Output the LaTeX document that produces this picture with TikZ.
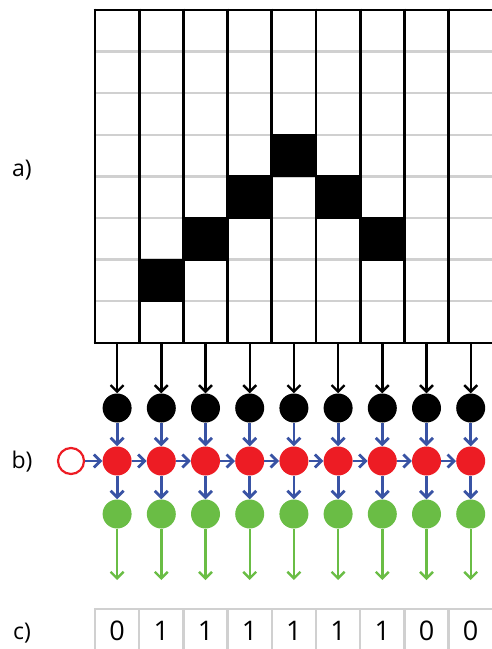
\documentclass[tikz,border=0pt]{standalone}
\usepackage{fontspec}
\setmainfont{Open Sans}
\usetikzlibrary{arrows.meta}
\definecolor{myred}{HTML}{ED1C24}
\definecolor{mygreen}{HTML}{6ABD45}
\definecolor{myblue}{HTML}{3953A4}
\definecolor{mygray}{HTML}{D0D0D0}
\tikzset{
  inball/.style={circle,fill=black,minimum size=29pt,inner sep=0pt},
  hball/.style={circle,fill=myred,minimum size=29pt,inner sep=0pt},
  oball/.style={circle,fill=mygreen,minimum size=29pt,inner sep=0pt},
  startball/.style={circle,draw=myred,line width=2.2pt,minimum size=26pt,inner sep=0pt},
  barb/.style={-{Straight Barb[length=6.5pt,width=13pt]}},
  blackarr/.style={barb,line width=2.4pt,black},
  bluearr/.style={barb,line width=2.8pt,myblue},
  greenarr/.style={barb,line width=2.4pt,mygreen},
  gridv/.style={line width=2.8pt,black},
  gridh/.style={line width=2.5pt,mygray},
  tabline/.style={line width=2.5pt,mygray},
  lab/.style={font=\fontsize{23}{27}\selectfont,inner sep=0pt},
  digit/.style={font=\fontsize{27}{30}\selectfont,inner sep=0pt}
}
\begin{document}
\begin{tikzpicture}[x=1pt,y=-1pt]
\useasboundingbox (0,0) rectangle (492,649);
% gray horizontal lines
\foreach \r in {1,...,7}{
  \draw[gridh] (95,{10+41.6*\r}) -- (492,{10+41.6*\r});
}
% black cells
\foreach \c/\r in {2/7,3/6,4/5,5/4,6/5,7/6}{
  \fill[black] ({95+44.2*(\c-1)},{10+41.6*(\r-1)-1}) rectangle ({95+44.2*\c},{10+41.6*\r+1});
}
% vertical lines
\foreach \c in {0,...,8}{
  \draw[gridv] ({95+44.2*\c},8.6) -- ({95+44.2*\c},344.4);
}
\draw[gridv] (93.6,10) -- (492,10);
\draw[gridv] (93.6,343) -- (492,343);
% nodes
\node[lab] (la) at (22,170) {a)};
\node[lab] (lb) at (22,462) {b)};
\node[lab] (lc) at (22,633) {c)};
\node[startball] (h0) at (71,461) {};
\foreach \i in {1,...,9}{
  \coordinate (g\i) at ({95+44.2*(\i-0.5)},344);
  \node[inball] (in\i) at ({95+44.2*(\i-0.5)},408) {};
  \node[hball] (h\i) at ({95+44.2*(\i-0.5)},461) {};
  \node[oball] (o\i) at ({95+44.2*(\i-0.5)},514) {};
  \coordinate (e\i) at ({95+44.2*(\i-0.5)},580);
}
\foreach \i in {1,...,9}{
  \draw[blackarr] (g\i) -- (in\i);
  \draw[bluearr] (in\i) -- (h\i);
  \draw[bluearr] (h\i) -- (o\i);
  \draw[greenarr] (o\i) -- (e\i);
}
\foreach \i [remember=\i as \j (initially 0)] in {1,...,9}{
  \draw[bluearr] (h\j) -- (h\i);
}
% table
\draw[tabline] (93.8,609) -- (492,609);
\foreach \c in {0,...,8}{
  \draw[tabline] ({95+44.2*\c},609) -- ({95+44.2*\c},649);
}
\foreach \v [count=\i] in {0,1,1,1,1,1,1,0,0}{
  \node[digit] (d\i) at ({95+44.2*(\i-0.5)},631) {\v};
}
\end{tikzpicture}
\end{document}
